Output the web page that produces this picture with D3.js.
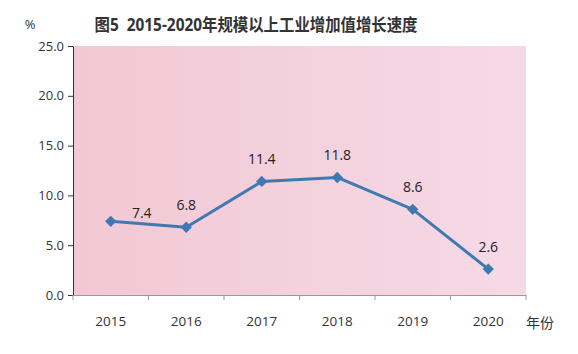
<!DOCTYPE html>
<html>
<head>
<meta charset="utf-8">
<script src="https://cdn.jsdelivr.net/npm/d3@7"></script>
<style>
  html, body { margin: 0; padding: 0; background: #ffffff; }
  svg { display: block; }
  text { font-family: "Open Sans", "Noto Sans CJK SC", sans-serif; white-space: pre; }
</style>
</head>
<body>
<svg id="chart" width="578" height="354"></svg>
<script>
const years = ["2015", "2016", "2017", "2018", "2019", "2020"];
const growth = [7.4, 6.8, 11.4, 11.8, 8.6, 2.6];
const yTicks = [0, 5, 10, 15, 20, 25];
const titleText = "图5  2015-2020年规模以上工业增加值增长速度";
const yUnit = "%";
const xUnit = "年份";

const svg = d3.select("#chart");
const m = { left: 73, right: 52, top: 46, bottom: 59 };
const W = 578, H = 354;
const x = d3.scaleBand().domain(years).range([m.left, W - m.right]);
const y = d3.scaleLinear().domain([0, 25]).range([H - m.bottom, m.top]);

const defs = svg.append("defs");
const grad = defs.append("linearGradient").attr("id", "bg").attr("x1", "0").attr("x2", "1").attr("y1", "0").attr("y2", "0");
grad.append("stop").attr("offset", "0%").attr("stop-color", "#f2c8d4");
grad.append("stop").attr("offset", "100%").attr("stop-color", "#f5dae6");

svg.append("rect")
  .attr("x", m.left).attr("y", y(25))
  .attr("width", x.range()[1] - m.left).attr("height", y(0) - y(25))
  .attr("fill", "url(#bg)");

// Title
svg.append("text").attr("x", 256).attr("y", 31).attr("text-anchor", "middle")
  .attr("font-size", 17.5).attr("font-weight", "bold").attr("fill", "#333")
  .attr("textLength", 323).attr("lengthAdjust", "spacingAndGlyphs")
  .text(titleText);
svg.append("text").attr("x", 30).attr("y", 29).attr("text-anchor", "middle")
  .attr("font-size", 13).attr("fill", "#333").text(yUnit);

// Y axis
const yAxis = svg.append("g").attr("transform", `translate(${m.left},0)`)
  .call(d3.axisLeft(y).tickValues(yTicks).tickFormat(d3.format(".1f")).tickSize(5).tickSizeOuter(0));
yAxis.select(".domain").attr("stroke", "#333");
yAxis.selectAll(".tick line").attr("stroke", "#333");
yAxis.selectAll("text").attr("font-size", 13).attr("fill", "#333").attr("x", -9)
  .style("font-family", "'Open Sans', sans-serif");

// X axis
const xAxis = svg.append("g").attr("transform", `translate(0,${y(0)})`)
  .call(d3.axisBottom(x).tickSize(0));
xAxis.select(".domain").attr("stroke", "#999");
xAxis.selectAll("text").attr("font-size", 13.5).attr("fill", "#333").attr("dy", "0").attr("y", 31)
  .style("font-family", "'Open Sans', sans-serif");
const bounds = years.map(d => x(d)).concat([x.range()[1]]);
xAxis.selectAll("line.bt").data(bounds).enter().append("line")
  .attr("class", "bt").attr("x1", d => d).attr("x2", d => d)
  .attr("y1", 0).attr("y2", 5).attr("stroke", "#999");

svg.append("text").attr("x", 540).attr("y", 328).attr("text-anchor", "middle")
  .attr("font-size", 14).attr("fill", "#333").text(xUnit);

// Line
const cx = d => x(d) + x.bandwidth() / 2;
const line = d3.line().x((d, i) => cx(years[i])).y(d => y(d));
svg.append("path").datum(growth).attr("d", line)
  .attr("fill", "none").attr("stroke", "#3f79b1").attr("stroke-width", 3).attr("stroke-linejoin", "round");

svg.selectAll("path.mk").data(growth).enter().append("path")
  .attr("class", "mk")
  .attr("d", d3.symbol().type(d3.symbolSquare).size(64))
  .attr("transform", (d, i) => `translate(${cx(years[i])},${y(d)}) rotate(45)`)
  .attr("fill", "#3f79b1");

// Labels
svg.selectAll("text.lbl").data(growth).enter().append("text")
  .attr("class", "lbl")
  .attr("x", (d, i) => cx(years[i]) + (i === 0 ? 31 : 0))
  .attr("y", (d, i) => y(d) - (i === 0 ? 3 : 17))
  .attr("text-anchor", "middle").attr("font-size", 14).attr("fill", "#222")
  .text(d => d.toFixed(1));
</script>
</body>
</html>
